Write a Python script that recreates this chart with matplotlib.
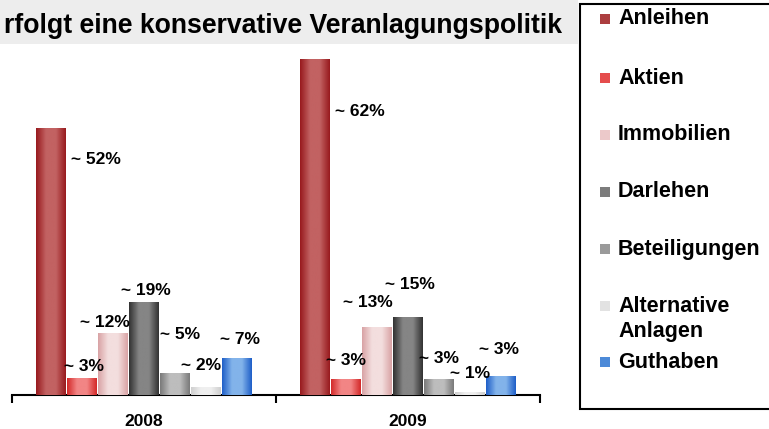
import numpy as np
import matplotlib
matplotlib.use('Agg')
import matplotlib.pyplot as plt
from matplotlib.colors import LinearSegmentedColormap
from matplotlib.patches import Rectangle

plt.rcParams['font.family'] = ['Liberation Sans', 'DejaVu Sans']
plt.rcParams['font.weight'] = 'bold'

# Daten
jahre = ['2008', '2009']
kategorien = ['Anleihen', 'Aktien', 'Immobilien', 'Darlehen', 'Beteiligungen',
              'Alternative\nAnlagen', 'Guthaben']
werte_2008 = [50.9, 3.2, 11.8, 17.7, 4.2, 1.5, 7.0]
werte_2009 = [64.0, 3.0, 13.0, 14.9, 3.0, 0.6, 3.6]
labels_2008 = ['~ 52%', '~ 3%', '~ 12%', '~ 19%', '~ 5%', '~ 2%', '~ 7%']
labels_2009 = ['~ 62%', '~ 3%', '~ 13%', '~ 15%', '~ 3%', '~ 1%', '~ 3%']

# Farben (Rand, Mitte, Legende)
rand = ['#981a1e', '#d42a2a', '#d9a3a5', '#333333', '#7a7a7a', '#cfcfcf', '#1f5fc8']
mitte = ['#c26262', '#f28585', '#f3dede', '#858585', '#bdbdbd', '#efefef', '#82b3ea']
legende_farbe = ['#ac3e40', '#e54d4d', '#ecc9ca', '#7c7c7c', '#9a9a9a', '#e2e2e2', '#4d8ad8']

# Offsets der Beschriftungen (Pixel: rechts, oben) relativ zur Balkenspitze
off_2008 = [(45, -32), (2, 12), (-8, 11), (2, 12), (5, 38), (-5, 22), (3, 19)]
off_2009 = [(45, -53), (0, 19), (-9, 24), (2, 32), (0, 21), (0, 18), (-2, 27)]

fig = plt.figure(figsize=(7.69, 4.29), dpi=100)
W, H = 769, 429

# Titelband
fig.patches.append(Rectangle((0, 1 - 44 / H), 578 / W, 44 / H, transform=fig.transFigure,
                             facecolor='#ededed', edgecolor='none', zorder=0))
fig.text(562 / W, 1 - 33 / H, 'rfolgt eine konservative Veranlagungspolitik',
         ha='right', va='baseline', fontsize=19.2, fontweight='bold')

ax = fig.add_axes([12 / W, (H - 395) / H, 528 / W, 351 / H])
ax.set_xlim(-0.5, 1.5)
ax.set_ylim(0, 351 / 5.25)
ax.patch.set_alpha(0)

schritt = 31 / 264
breite = 29.5 / 264
px2pt = 0.72

for j, (werte, labels, offs) in enumerate([(werte_2008, labels_2008, off_2008),
                                             (werte_2009, labels_2009, off_2009)]):
    for i, v in enumerate(werte):
        xc = j + (i - 3) * schritt
        bar = ax.bar(xc, v, width=breite, color=mitte[i], edgecolor='none', zorder=2)[0]
        cmap = LinearSegmentedColormap.from_list('g', [rand[i], mitte[i], mitte[i], rand[i]])
        grad = np.linspace(0, 1, 64).reshape(1, -1)
        im = ax.imshow(grad, cmap=cmap, aspect='auto', zorder=3,
                       extent=[bar.get_x(), bar.get_x() + bar.get_width(), 0, bar.get_height()])
        im.set_clip_path(bar)
        dx, dy = offs[i]
        ax.annotate(labels[i], xy=(xc, v), xytext=(dx * px2pt, dy * px2pt),
                    textcoords='offset points', ha='center', va='center',
                    fontsize=12.5, fontweight='bold', zorder=4)

ax.set_xticks([0, 1])
ax.set_xticklabels(jahre, fontsize=12.5, fontweight='bold')
ax.tick_params(axis='x', which='major', length=0, pad=14)
ax.set_xticks([-0.5, 0.5, 1.5], minor=True)
ax.tick_params(axis='x', which='minor', length=6, width=1.5, direction='out')
ax.set_yticks([])
for s in ['top', 'left', 'right']:
    ax.spines[s].set_visible(False)
ax.spines['bottom'].set_linewidth(1.5)

# Legende
fig.patches.append(Rectangle((580 / W, 1 - 409 / H), 250 / W, 405 / H, transform=fig.transFigure,
                             facecolor='white', edgecolor='black', linewidth=1.5, zorder=1))
leg_y = [19, 78, 135, 192, 249, 319, 362]
marker_y = [19, 78, 135, 192, 249, 306, 362]
for i, name in enumerate(kategorien):
    fig.patches.append(Rectangle((600 / W, 1 - (marker_y[i] + 5) / H), 10 / W, 10 / H,
                                 transform=fig.transFigure, facecolor=legende_farbe[i],
                                 edgecolor='none', zorder=2))
    fig.text(618 / W, 1 - leg_y[i] / H, name, ha='left', va='center', fontsize=15.5,
             fontweight='bold', linespacing=1.28, zorder=3)

fig.savefig('out.png', dpi=100)
